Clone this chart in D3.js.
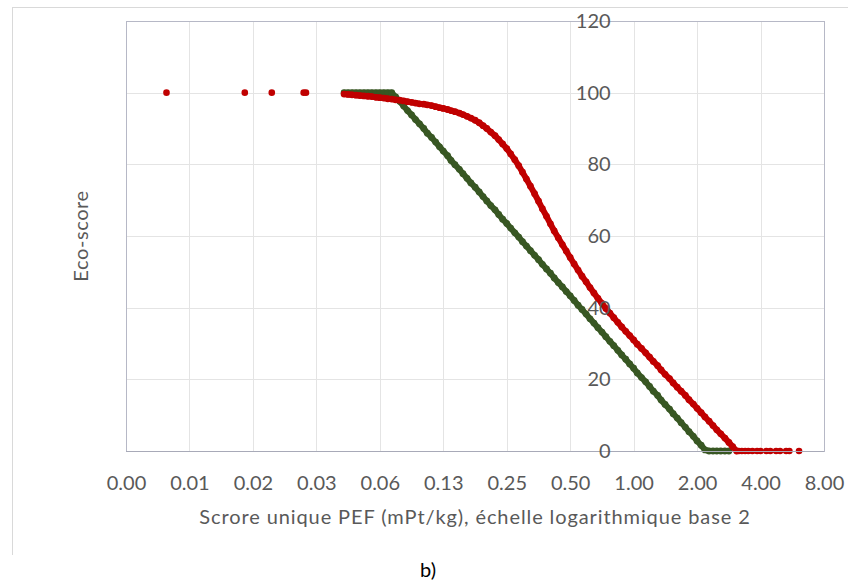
<!DOCTYPE html>
<html><head><meta charset="utf-8">
<script src="https://cdn.jsdelivr.net/npm/d3@7"></script>
<style>
body{margin:0;background:#fff}
svg{display:block}
text{font-family:Lato,"Open Sans",sans-serif}
</style>
</head><body>
<svg id="chart" width="848" height="588"></svg>
<script>
// ---- data ----
const xTickValues = [0.00390625, 0.0078125, 0.015625, 0.03125, 0.0625, 0.125, 0.25, 0.5, 1, 2, 4, 8];
const xTickLabels = ["0.00","0.01","0.02","0.03","0.06","0.13","0.25","0.50","1.00","2.00","4.00","8.00"];
const yTickValues = [0, 20, 40, 60, 80, 100, 120];
const xAxisTitle = "Scrore unique PEF (mPt/kg), échelle logarithmique base 2";
const yAxisTitle = "Eco-score";
const caption = "b)";

// green series (dense run of products)
const greenPefX = [0.0423,0.0442,0.0462,0.0482,0.0503,0.0526,0.0549,0.0573,0.0599,0.0625,0.0653,0.0682,0.0712,
  0.0743,0.0776,0.0811,0.0846,0.0884,0.0923,0.0964,0.101,0.105,0.110,0.115,0.120,
  0.125,0.131,0.136,0.142,0.149,0.155,0.162,0.169,0.177,0.185,0.193,0.201,0.210,0.220,0.229,0.239,
  0.250,0.261,0.273,0.285,0.297,0.310,0.324,0.339,0.354,0.369,0.386,0.403,0.420,0.439,0.459,0.479,
  0.500,0.522,0.545,0.569,0.595,0.621,0.648,0.677,0.707,0.738,0.771,0.805,0.841,0.878,0.917,0.958,
  1.00,1.04,1.09,1.14,1.19,1.24,1.30,1.35,1.41,1.48,1.54,1.61,1.68,1.76,1.83,1.92,
  2.00,2.09,2.18,2.28,2.38,2.48,2.59,2.71,2.83];
const greenScore = [100,100,100,100,100,100,100,100,100,100,100,100,100,
  98.8,97.6,96.3,95.0,93.8,92.5,91.3,90.0,88.7,87.5,86.2,84.9,
  83.7,82.4,81.1,79.9,78.6,77.4,76.1,74.8,73.6,72.3,71.0,69.8,68.5,67.3,66.0,64.7,
  63.5,62.2,60.9,59.7,58.4,57.2,55.9,54.6,53.4,52.1,50.8,49.6,48.3,47.0,45.8,44.5,
  43.3,42.0,40.7,39.5,38.2,36.9,35.7,34.4,33.2,31.9,30.6,29.4,28.1,26.8,25.6,24.3,
  23.1,21.8,20.5,19.3,18.0,16.7,15.5,14.2,13.0,11.7,10.4,9.2,7.9,6.6,5.4,4.1,
  2.8,1.6,0.3,0,0,0,0,0,0];

// red series (dense run of products)
const redPefX = [0.0423,0.0442,0.0462,0.0482,0.0503,0.0526,0.0549,0.0573,0.0599,0.0625,0.0653,0.0682,0.0712,
  0.0743,0.0776,0.0811,0.0846,0.0884,0.0923,0.0964,0.101,0.105,0.110,0.115,0.120,
  0.125,0.131,0.136,0.142,0.149,0.155,0.162,0.169,0.177,0.185,0.193,0.201,0.210,0.220,0.229,0.239,
  0.250,0.261,0.273,0.285,0.297,0.310,0.324,0.339,0.354,0.369,0.386,0.403,0.420,0.439,0.459,0.479,
  0.500,0.522,0.545,0.569,0.595,0.621,0.648,0.677,0.707,0.738,0.771,0.805,0.841,0.878,0.917,0.958,
  1.00,1.04,1.09,1.14,1.19,1.24,1.30,1.35,1.41,1.48,1.54,1.61,1.68,1.76,1.83,1.92,
  2.00,2.09,2.18,2.28,2.38,2.48,2.59,2.71,2.83,2.95,3.08];
const redScore = [99.6,99.5,99.4,99.3,99.2,99.1,99.0,98.9,98.7,98.6,98.5,98.3,98.2,
  98.0,97.9,97.7,97.5,97.3,97.1,96.9,96.8,96.6,96.4,96.1,95.8,
  95.6,95.3,95.0,94.7,94.3,93.9,93.4,92.9,92.3,91.6,90.8,90.0,89.0,88.0,86.9,85.7,
  84.4,82.9,81.3,79.6,77.8,75.9,73.9,71.8,69.7,67.6,65.5,63.4,61.4,59.5,57.6,55.8,
  54.0,52.2,50.5,48.8,47.2,45.6,44.1,42.6,41.2,39.8,38.5,37.2,35.9,34.6,33.4,32.2,
  31.0,29.8,28.6,27.4,26.2,25.0,23.8,22.6,21.4,20.2,19.0,17.8,16.7,15.5,14.3,13.1,
  11.9,10.7,9.5,8.3,7.1,5.9,4.8,3.6,2.4,1.2,0];

// red series, scattered products (isolated low values and high-impact tail)
const redSparsePefX = [0.00608,0.0143,0.0192,0.0272,0.0279,
  3.16,3.26,3.38,3.50,3.66,3.85,4.00,4.26,4.45,4.74,4.95,5.29,5.48,6.09];
const redSparseScore = [100,100,100,100,100,
  0,0,0,0,0,0,0,0,0,0,0,0,0,0];

// ---- drawing ----
const plot = {left:126, right:824, top:21, bottom:451};
const yAxisCrossesAt = 1;
const colors = {green:"#385723", red:"#C00000", grid:"#e4e4e4", border:"#b6b8c6", text:"#595959", frame:"#d9d9d9"};

const svg = d3.select("#chart");
const x = d3.scaleLog().base(2)
  .domain([xTickValues[0], xTickValues[xTickValues.length-1]])
  .range([plot.left, plot.right]);
const y = d3.scaleLinear().domain([0,120]).range([plot.bottom, plot.top]);

// outer frame (top and left edges visible)
svg.append("line").attr("x1",12).attr("y1",7.5).attr("x2",848).attr("y2",7.5).attr("stroke",colors.frame);
svg.append("line").attr("x1",12.5).attr("y1",7).attr("x2",12.5).attr("y2",555).attr("stroke",colors.frame);

// gridlines
svg.append("g").selectAll("line").data(xTickValues).join("line")
  .attr("x1",d=>Math.round(x(d))+0.5).attr("x2",d=>Math.round(x(d))+0.5)
  .attr("y1",plot.top).attr("y2",plot.bottom)
  .attr("stroke",colors.grid);
svg.append("g").selectAll("line").data(yTickValues).join("line")
  .attr("x1",plot.left).attr("x2",plot.right)
  .attr("y1",d=>Math.round(y(d))+0.5).attr("y2",d=>Math.round(y(d))+0.5)
  .attr("stroke",colors.grid);

// plot border
svg.append("rect").attr("x",plot.left+0.5).attr("y",plot.top+0.5)
  .attr("width",plot.right-plot.left).attr("height",plot.bottom-plot.top)
  .attr("fill","none").attr("stroke",colors.border);

// series
const line = d3.line().x(d=>x(d[0])).y(d=>y(d[1]));
const greenPts = greenPefX.map((v,i)=>[v,greenScore[i]]);
const redPts = redPefX.map((v,i)=>[v,redScore[i]]);
const redSparsePts = redSparsePefX.map((v,i)=>[v,redSparseScore[i]]);

const gGreen = svg.append("g");
gGreen.append("path").attr("d",line(greenPts)).attr("fill","none")
  .attr("stroke",colors.green).attr("stroke-width",6).attr("stroke-linejoin","round").attr("stroke-linecap","round");
gGreen.selectAll("circle").data(greenPts).join("circle")
  .attr("cx",d=>x(d[0])).attr("cy",d=>y(d[1])).attr("r",3.4).attr("fill",colors.green);

const gRed = svg.append("g");
gRed.append("path").attr("d",line(redPts)).attr("fill","none")
  .attr("stroke",colors.red).attr("stroke-width",6).attr("stroke-linejoin","round").attr("stroke-linecap","round");
gRed.selectAll("circle.d").data(redPts).join("circle").attr("class","d")
  .attr("cx",d=>x(d[0])).attr("cy",d=>y(d[1])).attr("r",3.4).attr("fill",colors.red);
gRed.selectAll("circle.s").data(redSparsePts).join("circle").attr("class","s")
  .attr("cx",d=>x(d[0])).attr("cy",d=>y(d[1])).attr("r",3.3).attr("fill",colors.red);

// x axis
const xAxis = d3.axisBottom(x).tickValues(xTickValues)
  .tickFormat((d,i)=>xTickLabels[i]).tickSize(0).tickPadding(25);
const gx = svg.append("g").attr("transform",`translate(0,${y(0)})`).call(xAxis);
gx.select(".domain").attr("stroke","#a8aab8").attr("d",`M${plot.left},0.5H${plot.right}`);
gx.selectAll("text").attr("fill",colors.text).attr("font-size",20);

// y axis
const yAxis = d3.axisLeft(y).tickValues(yTickValues).tickSize(0).tickPadding(23);
const gy = svg.append("g").attr("transform",`translate(${x(yAxisCrossesAt)},0)`).call(yAxis);
gy.select(".domain").remove();
gy.selectAll("text").attr("fill",colors.text).attr("font-size",20);

// titles
svg.append("text").attr("x",(plot.left+plot.right)/2).attr("y",524)
  .attr("text-anchor","middle").attr("fill",colors.text).attr("font-size",20)
  .attr("letter-spacing",0.9).text(xAxisTitle);
svg.append("text").attr("transform",`translate(88,${(plot.top+plot.bottom)/2}) rotate(-90)`)
  .attr("text-anchor","middle").attr("fill",colors.text).attr("font-size",20)
  .attr("letter-spacing",0.6).text(yAxisTitle);
svg.append("text").attr("x",428).attr("y",577).attr("text-anchor","middle")
  .attr("fill","#000").attr("font-size",20).text(caption);
</script>
</body></html>
